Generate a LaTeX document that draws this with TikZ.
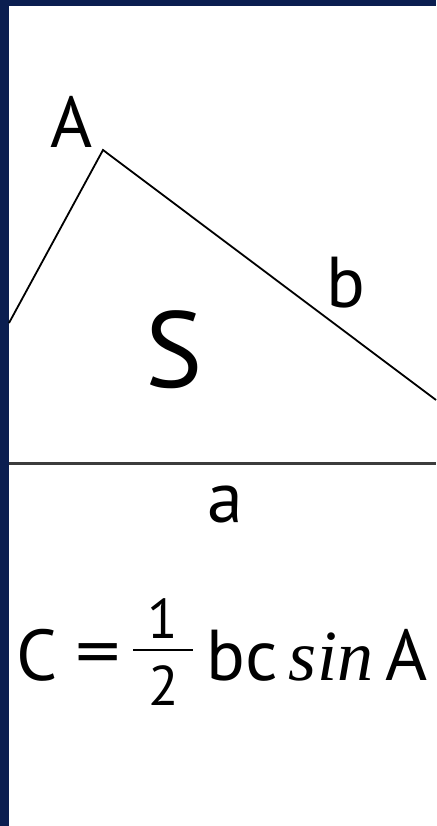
\documentclass[tikz,border=0pt]{standalone}
\usepackage{fontspec}
\setmainfont{PT Sans}
\newfontfamily\sinfont{Liberation Serif}
\usepackage{xcolor}
\definecolor{frameNavy}{HTML}{0B1E50}
\definecolor{baseGray}{HTML}{3C3C3C}

\begin{document}
\begin{tikzpicture}[
    x=1pt, y=-1pt,
    side/.style={draw=black, line width=1.8pt},
    baseline line/.style={draw=baseGray, line width=3pt},
    lbl/.style={anchor=base, inner sep=0pt, font=\fontsize{72}{80}\selectfont},
    biglbl/.style={anchor=base, inner sep=0pt, font=\fontsize{108}{120}\selectfont},
    fraclbl/.style={anchor=base, inner sep=0pt, font=\fontsize{56}{60}\selectfont},
]
    % frame and paper
    \fill[frameNavy] (0,0) rectangle (436,826);
    \fill[white] (9,6) rectangle (436,826);
    \useasboundingbox (0,0) rectangle (436,826);

    % triangle
    \coordinate (vA) at (103,150);
    \coordinate (vL) at (9,323);
    \coordinate (vR) at (436,400);
    \draw[side] (vL) -- (vA) -- (vR);

    % base line
    \coordinate (baseL) at (9,463);
    \coordinate (baseR) at (436,463);
    \draw[baseline line] (baseL) -- (baseR);

    % labels
    \node[lbl] (labA) at (72,148) {A};
    \node[lbl] (labb) at (346,307) {b};
    \node[biglbl] (labS) at (174,387) {S};
    \node[lbl] (laba) at (225,522) {a};

    % formula
    \node[lbl] (eqC) at (37,680) {C};
    \node[lbl, xscale=1.25] (eqEq) at (98,676) {=};
    \node[fraclbl] (eqNum) at (163,638) {1};
    \node[fraclbl] (eqDen) at (164,705) {2};
    \coordinate (barL) at (133,650);
    \coordinate (barR) at (193,650);
    \draw[line width=2.2pt] (barL) -- (barR);
    \node[lbl] (eqbc) at (242,680) {bc};
    \node[lbl, font=\fontsize{72}{80}\sinfont\itshape] (eqsin) at (331,680) {sin};
    \node[lbl] (eqA) at (407,680) {A};
\end{tikzpicture}
\end{document}
